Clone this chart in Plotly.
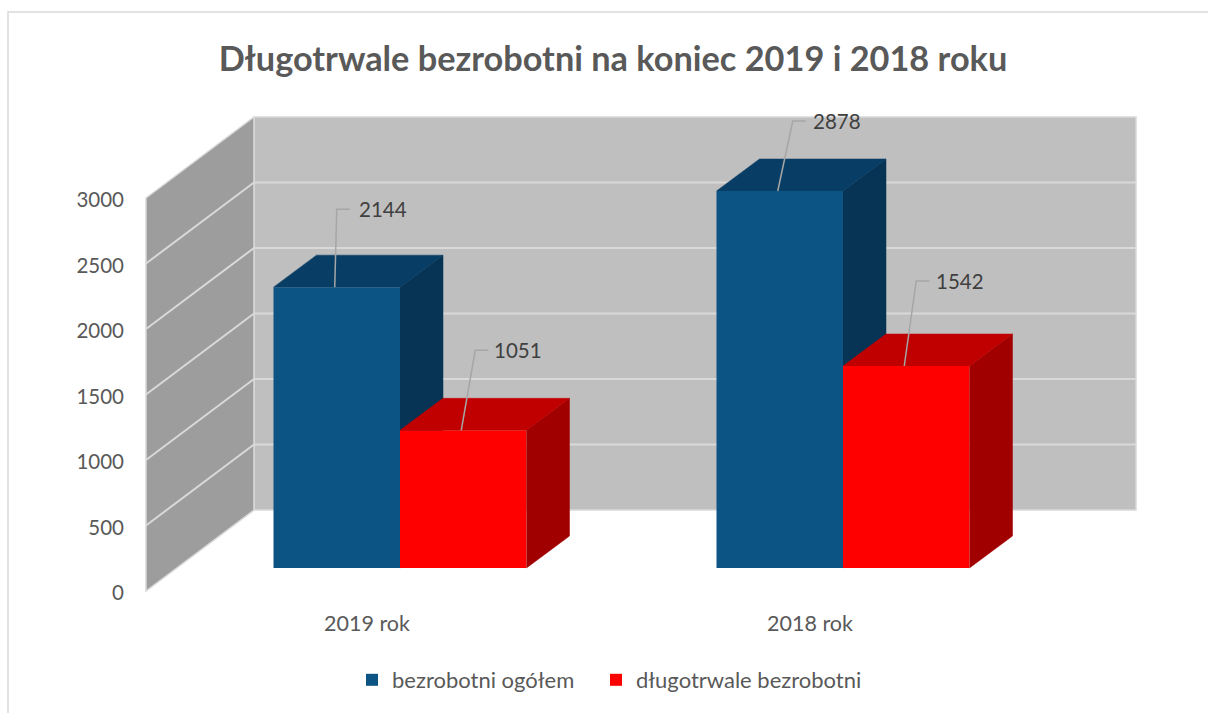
import plotly.graph_objects as go

# ---- data ----
categories = ["2019 rok", "2018 rok"]
series_names = ["bezrobotni ogółem", "długotrwale bezrobotni"]
total_unemployed = [2144, 2878]
long_term_unemployed = [1051, 1542]
value_ticks = [0, 500, 1000, 1500, 2000, 2500, 3000]
title_text = "Długotrwale bezrobotni na koniec 2019 i 2018 roku"

# ---- oblique projection (figure pixels) ----
W, H = 1208, 713
FONT = "Lato"
PX_PER_VALUE = 393 / 3000
ZERO_PX = 591
PX_PER_CAT = 443
CAT0_PX = 400
WALL_DX, WALL_DY = 108, 81
WALL_LEFT, WALL_RIGHT = 146, 1028       # front-plane x of wall
BAR_W = 126.5 / PX_PER_CAT
BAR_FRONT = 23 / 81                     # depth fraction of bar front
BAR_BASE = BAR_FRONT * WALL_DY / PX_PER_VALUE
BAR_DX, BAR_DV = 43 / PX_PER_CAT, 32 / PX_PER_VALUE

xpx = lambda px: (px - CAT0_PX) / PX_PER_CAT
X_RANGE = [xpx(0), xpx(W)]
Y_RANGE = [(ZERO_PX - H) / PX_PER_VALUE, ZERO_PX / PX_PER_VALUE]


def depth(x, v, d):
    """shift a front-plane point (x in category units, v in values) to depth d"""
    return x + d * WALL_DX / PX_PER_CAT, v + d * WALL_DY / PX_PER_VALUE


def poly(points, color, xa, ya):
    xs, ys = zip(*points)
    return go.Scatter(x=list(xs), y=list(ys), mode="lines", fill="toself", fillcolor=color,
                      line=dict(color=color, width=0.5), showlegend=False, hoverinfo="skip",
                      xaxis=xa, yaxis=ya)


def add_series(fig, values, name, left_offset, front, side, top, xa, ya, legend):
    # front faces are real bars, standing on the bars' front plane
    fig.add_trace(go.Bar(x=list(range(len(values))), y=values, base=BAR_BASE, width=BAR_W,
                         offset=left_offset, marker=dict(color=front, line=dict(width=0)), name=name,
                         xaxis=xa, yaxis=ya, hoverinfo="skip", legend=legend))
    for i, v in enumerate(values):
        x0, x1 = i + left_offset, i + left_offset + BAR_W
        vt = BAR_BASE + v
        fig.add_trace(poly([(x1, BAR_BASE), (x1 + BAR_DX, BAR_BASE + BAR_DV), (x1 + BAR_DX, vt + BAR_DV),
                            (x1, vt)], side, xa, ya))
        fig.add_trace(poly([(x0, vt), (x0 + BAR_DX, vt + BAR_DV), (x1 + BAR_DX, vt + BAR_DV), (x1, vt)],
                           top, xa, ya))


def add_leaders(fig, values, left_offset, elbow, tail, gaps, xa, ya):
    for i, v in enumerate(values):
        xc = i + left_offset + BAR_W / 2 - 2 / PX_PER_CAT
        vt = BAR_BASE + v
        ex = xc + elbow[i][0] / PX_PER_CAT
        ev = vt + elbow[i][1] / PX_PER_VALUE
        fig.add_trace(go.Scatter(x=[xc, ex, ex + tail / PX_PER_CAT], y=[vt, ev, ev], mode="lines",
                                 line=dict(color="#a6a6a6", width=1.5), showlegend=False, hoverinfo="skip",
                                 xaxis=xa, yaxis=ya))
        fig.add_annotation(x=ex + (tail + gaps[i]) / PX_PER_CAT, y=ev, text=str(v), showarrow=False, xanchor="left",
                           yanchor="middle", xref="x", yref="y", font=dict(family=FONT, size=20.5, color="#404040"))


fig = go.Figure()
add_series(fig, total_unemployed, series_names[0], -BAR_W, "#0c5484", "#073454", "#083d65", "x", "y", "legend")
add_leaders(fig, total_unemployed, -BAR_W, [(2, 78), (15, 70)], 13, [7, 5], "x", "y")
add_series(fig, long_term_unemployed, series_names[1], 0, "#ff0000", "#a00000", "#c00000", "x2", "y2", "legend2")
add_leaders(fig, long_term_unemployed, 0, [(14, 80), (12, 85)], 13, [4, 5], "x2", "y2")

# ---- walls, drawn from the value axis ----
vmax = max(value_ticks)
xl, xr = xpx(WALL_LEFT), xpx(WALL_RIGHT)
bl = depth(xl, 0, 1)
tl = depth(xl, vmax, 1)
br = depth(xr, 0, 1)
tr = depth(xr, vmax, 1)


def path(pts):
    return "M " + " L ".join(f"{a},{b}" for a, b in pts) + " Z"


shapes = [
    dict(type="rect", xref="paper", yref="paper", x0=8 / W, x1=1.01, y0=-0.01, y1=1 - 12 / H,
         line=dict(color="#d9d9d9", width=1.5), fillcolor="rgba(0,0,0,0)", layer="below"),
    dict(type="path", xref="x", yref="y", path=path([bl, tl, tr, br]), fillcolor="#bfbfbf",
         line=dict(color="#d9d9d9", width=1.5), layer="below"),
    dict(type="path", xref="x", yref="y", path=path([(xl, 0), (xl, vmax), tl, bl]), fillcolor="#9d9d9d",
         line=dict(color="#d9d9d9", width=1.5), layer="below"),
]
for t in value_ticks[1:-1]:
    back = depth(xl, t, 1)
    shapes.append(dict(type="line", xref="x", yref="y", x0=xl, y0=t, x1=back[0], y1=back[1],
                       line=dict(color="#d9d9d9", width=2), layer="below"))
    shapes.append(dict(type="line", xref="x", yref="y", x0=back[0], y0=back[1], x1=br[0], y1=back[1],
                       line=dict(color="#d9d9d9", width=2), layer="below"))

label_shift = -33 / PX_PER_CAT
legend_common = dict(orientation="h", xanchor="left", y=1 - 680 / H, yanchor="middle",
                     font=dict(family=FONT, size=22, color="#595959"), bgcolor="rgba(0,0,0,0)")
fig.update_layout(
    width=W, height=H, autosize=False,
    margin=dict(l=0, r=0, t=0, b=0),
    paper_bgcolor="white", plot_bgcolor="rgba(0,0,0,0)",
    barmode="overlay",
    shapes=shapes,
    title=dict(text=title_text, x=613 / W, xanchor="center", y=1 - 59 / H, yanchor="middle",
               font=dict(family=FONT, size=34.3, color="#595959", weight="bold")),
    xaxis=dict(range=X_RANGE, domain=[0, 1], anchor="free", position=1 - 608 / H, showgrid=False,
               zeroline=False, showline=False, ticks="", tickmode="array",
               tickvals=[i + label_shift for i in range(len(categories))], ticktext=categories,
               tickfont=dict(family=FONT, size=21.5, color="#595959")),
    yaxis=dict(range=Y_RANGE, domain=[0, 1], anchor="free", position=124 / W, showgrid=False,
               zeroline=False, showline=False, ticks="", tickmode="array", tickvals=value_ticks,
               ticklabelshift=2, tickfont=dict(family=FONT, size=20.5, color="#595959")),
    xaxis2=dict(range=X_RANGE, overlaying="x", visible=False, anchor="y2"),
    yaxis2=dict(range=Y_RANGE, overlaying="y", visible=False, anchor="x2"),
    legend=dict(x=352 / W, **legend_common),
    legend2=dict(x=596 / W, **legend_common),
)

fig.write_html("out.html", config={"displayModeBar": False}, post_script="document.body.style.margin='0';")
